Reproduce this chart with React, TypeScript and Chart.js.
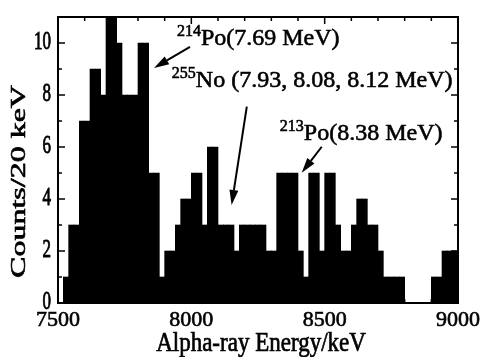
import React, { useEffect, useRef } from "react";
import { Chart, registerables } from "chart.js";

Chart.register(...registerables);

const SERIF = "'Liberation Serif', 'Times New Roman', serif";

// Histogram: counts per 20 keV bin, starting at 7500 keV
const BIN_START_KEV = 7500;
const BIN_WIDTH_KEV = 20;
const counts = [
  0, 1, 3, 3, 7, 7, 9, 9, 8, 11,
  11, 10, 8, 8, 8, 10, 10, 5, 5, 1,
  2, 2, 3, 4, 4, 5, 5, 3, 6, 6,
  3, 3, 3, 2, 3, 3, 3, 3, 3, 2,
  2, 5, 5, 5, 5, 2, 1, 5, 5, 2,
  5, 5, 3, 2, 2, 3, 4, 4, 3, 3,
  2, 1, 1, 1, 1, 0, 0, 0, 0, 0,
  1, 1, 2, 2, 2,
];
const binCenters = counts.map((_, i) => BIN_START_KEV + BIN_WIDTH_KEV * (i + 0.5));

const xTickValues = [7500, 8000, 8500, 9000];
const yTickValues = [0, 2, 4, 6, 8, 10];
const xTitle = "Alpha-ray Energy/keV";
const yTitle = "Counts/20 keV";

// annotation texts (positions in data units: keV, counts)
const annoSup = ["214", "255", "213"];
const annoText = ["Po(7.69 MeV)", "No (7.93, 8.08, 8.12 MeV)", "Po(8.38 MeV)"];
const annoAt = [
  [7946, 9.92],
  [7927, 8.31],
  [8332, 6.27],
];
const arrowFrom = [
  [7995, 9.85],
  [8208, 7.55],
  [8489, 6.01],
];
const arrowTo = [
  [7860, 9.04],
  [8151, 3.77],
  [8414, 5.01],
];

const TEXT_STROKE = 0.6;

function boldText(ctx: CanvasRenderingContext2D, s: string, x: number, y: number) {
  ctx.fillText(s, x, y);
  ctx.lineWidth = TEXT_STROKE;
  ctx.strokeText(s, x, y);
}

function drawArrow(ctx: CanvasRenderingContext2D, x1: number, y1: number, x2: number, y2: number) {
  const ang = Math.atan2(y2 - y1, x2 - x1);
  const headLen = 15;
  const headHalf = 4.5;
  const bx = x2 - headLen * Math.cos(ang);
  const by = y2 - headLen * Math.sin(ang);
  ctx.beginPath();
  ctx.moveTo(x1, y1);
  ctx.lineTo(bx, by);
  ctx.lineWidth = 2;
  ctx.stroke();
  ctx.beginPath();
  ctx.moveTo(x2, y2);
  ctx.lineTo(bx + headHalf * Math.sin(ang), by - headHalf * Math.cos(ang));
  ctx.lineTo(bx - headHalf * Math.sin(ang), by + headHalf * Math.cos(ang));
  ctx.closePath();
  ctx.fill();
}

const decorPlugin = {
  id: "decor",
  afterDraw(chart: any) {
    const ctx: CanvasRenderingContext2D = chart.ctx;
    const { left, right, top, bottom } = chart.chartArea;
    const xs = chart.scales.x;
    const ys = chart.scales.y;
    ctx.save();
    ctx.strokeStyle = "#000";
    ctx.fillStyle = "#000";

    // frame
    ctx.lineWidth = 2;
    ctx.strokeRect(left, top, right - left, bottom - top);

    // inward ticks
    ctx.lineWidth = 1.5;
    ctx.beginPath();
    for (let v = xTickValues[0] + 100; v < xTickValues[xTickValues.length - 1]; v += 100) {
      const px = xs.getPixelForValue(v);
      const len = v % 500 === 0 ? 7 : 4;
      ctx.moveTo(px, top);
      ctx.lineTo(px, top + len);
      ctx.moveTo(px, bottom);
      ctx.lineTo(px, bottom - len);
    }
    for (let v = 1; v < 11; v++) {
      const py = ys.getPixelForValue(v);
      const len = v % 2 === 0 ? 7 : 4;
      ctx.moveTo(left, py);
      ctx.lineTo(left + len, py);
      ctx.moveTo(right, py);
      ctx.lineTo(right - len, py);
    }
    ctx.stroke();

    // y tick labels (vertically stretched like the reference)
    ctx.font = `17px ${SERIF}`;
    ctx.textAlign = "right";
    ctx.textBaseline = "middle";
    for (const v of yTickValues) {
      const py = ys.getPixelForValue(v);
      ctx.save();
      ctx.translate(left - 7, py);
      ctx.scale(1, 1.45);
      boldText(ctx, String(v), 0, 0);
      ctx.restore();
    }

    // y title
    ctx.save();
    ctx.translate(20, 181.5);
    ctx.rotate(-Math.PI / 2);
    ctx.scale(1.6, 1);
    ctx.font = `20px ${SERIF}`;
    ctx.textAlign = "center";
    ctx.textBaseline = "middle";
    boldText(ctx, yTitle, 0, 0);
    ctx.restore();

    // x title
    ctx.save();
    ctx.translate((left + right) / 2 + 3, 344);
    ctx.scale(1, 1.2);
    ctx.font = `23px ${SERIF}`;
    ctx.textAlign = "center";
    ctx.textBaseline = "middle";
    boldText(ctx, xTitle, 0, 0);
    ctx.restore();

    // annotations
    ctx.textAlign = "left";
    ctx.textBaseline = "alphabetic";
    for (let i = 0; i < annoText.length; i++) {
      const px = xs.getPixelForValue(annoAt[i][0]);
      const py = ys.getPixelForValue(annoAt[i][1]);
      ctx.font = `16px ${SERIF}`;
      boldText(ctx, annoSup[i], px, py - 9);
      const w = ctx.measureText(annoSup[i]).width;
      ctx.font = `24px ${SERIF}`;
      boldText(ctx, annoText[i], px + w, py);
      drawArrow(
        ctx,
        xs.getPixelForValue(arrowFrom[i][0]),
        ys.getPixelForValue(arrowFrom[i][1]),
        xs.getPixelForValue(arrowTo[i][0]),
        ys.getPixelForValue(arrowTo[i][1])
      );
    }
    ctx.restore();
  },
};

export default function App() {
  const canvasRef = useRef<HTMLCanvasElement | null>(null);

  useEffect(() => {
    const canvas = canvasRef.current;
    if (!canvas) return;
    const chart = new Chart(canvas, {
      type: "bar",
      data: {
        datasets: [
          {
            data: binCenters.map((x, i) => ({ x, y: counts[i] })),
            backgroundColor: "#000",
            borderWidth: 0,
            barPercentage: 1,
            categoryPercentage: 1,
          },
        ],
      },
      options: {
        animation: false,
        responsive: false,
        layout: { padding: { left: 0, right: 27, top: 17, bottom: 0 } },
        plugins: { legend: { display: false }, tooltip: { enabled: false } },
        scales: {
          x: {
            type: "linear",
            min: xTickValues[0],
            max: xTickValues[xTickValues.length - 1],
            offset: false,
            grid: { display: false },
            border: { display: false },
            afterBuildTicks: (s: any) => {
              s.ticks = xTickValues.map((v) => ({ value: v }));
            },
            ticks: {
              font: { family: SERIF, size: 22 },
              color: "#000",
              textStrokeColor: "#000",
              textStrokeWidth: TEXT_STROKE,
              padding: -4,
              maxRotation: 0,
              autoSkip: false,
              callback: (v: any) => String(v),
            },
            afterFit: (s: any) => {
              s.height = 54;
            },
          },
          y: {
            min: 0,
            max: 11,
            grid: { display: false },
            border: { display: false },
            ticks: { display: false },
            afterFit: (s: any) => {
              s.width = 58;
            },
          },
        },
      },
      plugins: [decorPlugin],
    } as any);
    return () => chart.destroy();
  }, []);

  return (
    <canvas
      ref={canvasRef}
      width={485}
      height={357}
      style={{ position: "absolute", left: 0, top: 0, display: "block", width: 485, height: 357 }}
    />
  );
}
